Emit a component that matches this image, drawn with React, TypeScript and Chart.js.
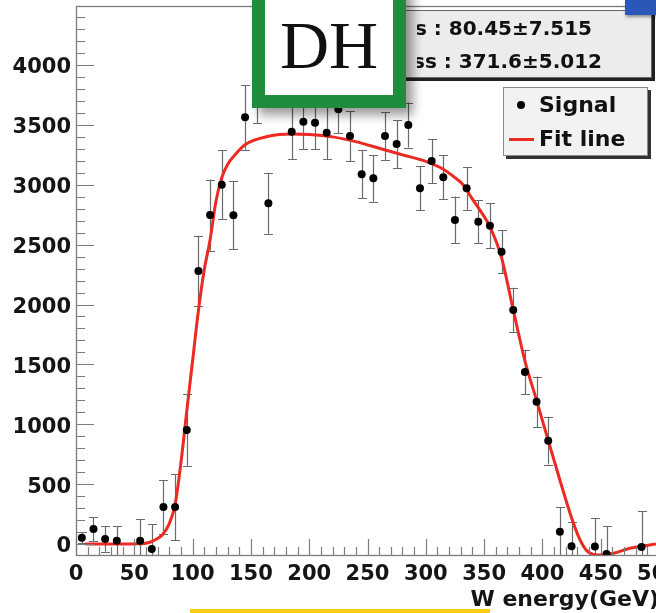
import React, { useEffect, useRef } from 'react';
import { Chart, registerables } from 'chart.js';

Chart.register(...registerables);

// ---- data ----
const signalX = [5, 15, 25, 35, 55, 65, 75, 85, 95, 105, 115, 125, 135, 145, 155, 165, 185, 195, 205, 215, 225, 235, 245, 255, 265, 275, 285, 295, 305, 315, 325, 335, 345, 355, 365, 375, 385, 395, 405, 415, 425, 445, 455, 485];
const signalY = [53, 125, 42, 28, 28, -42, 309, 309, 952, 2280, 2747, 3000, 2745, 3563, 3790, 2845, 3443, 3527, 3518, 3435, 3630, 3407, 3087, 3054, 3407, 3340, 3499, 2970, 3198, 3062, 2706, 2970, 2692, 2658, 2441, 1954, 1436, 1188, 863, 103, -18, -22, -83, -25];
const signalErr = [45, 100, 107, 120, 181, 209, 225, 276, 298, 295, 297, 290, 285, 270, 275, 255, 228, 228, 220, 223, 200, 209, 200, 195, 200, 200, 188, 184, 184, 184, 195, 178, 180, 190, 180, 185, 186, 210, 200, 203, 200, 240, 233, 300];

const fitX = [8, 30, 55, 62, 68, 74, 80, 85, 90, 95, 100, 105, 110, 115, 120, 125, 130, 135, 145, 165, 185, 200, 220, 240, 260, 280, 300, 315, 325, 332, 340, 347, 355, 365, 375, 385, 395, 405, 415, 425, 432, 438, 448, 461, 475, 492, 503];
const fitY = [0, 0, 2, 10, 35, 75, 170, 330, 680, 1110, 1530, 1950, 2290, 2540, 2860, 3060, 3170, 3235, 3335, 3405, 3425, 3420, 3400, 3360, 3305, 3250, 3195, 3130, 3060, 3000, 2880, 2780, 2650, 2390, 1955, 1530, 1200, 865, 534, 220, 40, -55, -92, -78, -36, -8, 5];

const xTickValues = [0, 50, 100, 150, 200, 250, 300, 350, 400, 450, 500];
const yTickValues = [0, 500, 1000, 1500, 2000, 2500, 3000, 3500, 4000];

const xTitle = 'W energy(GeV)';
const legendLabels = ['Signal', 'Fit line'];
const statsLines = ['W mass : 80.45±7.515', 'DH mass : 371.6±5.012'];
const badgeText = 'DH';

const X_MIN = 0;
const X_MAX = 500;
const Y_MIN = -92;
const Y_MAX = 4493;

const FONT = '"DejaVu Sans", sans-serif';
const AXIS_GRAY = '#7c7c7c';

const errorBarsPlugin = {
  id: 'errorBars',
  beforeDatasetsDraw(chart: any) {
    const { ctx, chartArea: a, scales } = chart;
    const xs = scales.x;
    const ys = scales.y;
    ctx.save();
    ctx.beginPath();
    ctx.rect(a.left, a.top, a.right - a.left, a.bottom - a.top);
    ctx.clip();
    ctx.strokeStyle = '#6a6a6a';
    ctx.lineWidth = 1.2;
    for (let i = 0; i < signalX.length; i++) {
      const px = Math.round(xs.getPixelForValue(signalX[i])) + 0.5;
      const y1 = ys.getPixelForValue(signalY[i] + signalErr[i]);
      const y2 = ys.getPixelForValue(signalY[i] - signalErr[i]);
      ctx.beginPath();
      ctx.moveTo(px, y1);
      ctx.lineTo(px, y2);
      ctx.moveTo(px - 4.5, Math.round(y1) + 0.5);
      ctx.lineTo(px + 4.5, Math.round(y1) + 0.5);
      ctx.moveTo(px - 4.5, Math.round(y2) + 0.5);
      ctx.lineTo(px + 4.5, Math.round(y2) + 0.5);
      ctx.stroke();
    }
    ctx.restore();
  },
};

const frameTicksPlugin = {
  id: 'frameTicks',
  afterDatasetsDraw(chart: any) {
    const { ctx, chartArea: a, scales } = chart;
    const xs = scales.x;
    const ys = scales.y;
    ctx.save();
    ctx.strokeStyle = AXIS_GRAY;
    ctx.lineWidth = 1.3;
    ctx.strokeRect(Math.round(a.left) + 0.5, Math.round(a.top) + 0.5, a.right - a.left, a.bottom - a.top);
    ctx.lineWidth = 1.2;
    ctx.beginPath();
    for (let v = X_MIN; v <= X_MAX; v += 10) {
      const px = Math.round(xs.getPixelForValue(v)) + 0.5;
      const len = v % 50 === 0 ? 16 : 8;
      ctx.moveTo(px, a.bottom);
      ctx.lineTo(px, a.bottom - len);
    }
    for (let v = 0; v <= Y_MAX; v += 100) {
      const py = Math.round(ys.getPixelForValue(v)) + 0.5;
      const len = v % 500 === 0 ? 18 : 9;
      ctx.moveTo(a.left, py);
      ctx.lineTo(a.left + len, py);
    }
    ctx.stroke();
    ctx.restore();
  },
};

export default function App() {
  const canvasRef = useRef<HTMLCanvasElement | null>(null);

  useEffect(() => {
    const canvas = canvasRef.current;
    if (!canvas) return;
    const tickFont = { family: FONT, size: 21, weight: 'bold' as const };
    const chart = new Chart(canvas, {
      type: 'scatter',
      data: {
        datasets: [
          {
            type: 'line',
            label: legendLabels[1],
            data: fitX.map((x, i) => ({ x, y: fitY[i] })),
            borderColor: '#ec2a22',
            borderWidth: 3,
            pointRadius: 0,
            cubicInterpolationMode: 'monotone',
            fill: false,
            order: 2,
          } as any,
          {
            type: 'scatter',
            label: legendLabels[0],
            data: signalX.map((x, i) => ({ x, y: signalY[i] })),
            backgroundColor: '#000',
            borderColor: '#000',
            borderWidth: 0,
            pointRadius: 4,
            pointHoverRadius: 4,
            order: 1,
          } as any,
        ],
      },
      options: {
        responsive: false,
        animation: false,
        events: [],
        layout: { padding: { top: 6, right: 41, left: 0, bottom: 0 } },
        plugins: { legend: { display: false }, tooltip: { enabled: false } },
        scales: {
          x: {
            type: 'linear',
            min: X_MIN,
            max: X_MAX,
            grid: { display: false, drawTicks: false },
            border: { display: false },
            ticks: {
              font: tickFont,
              color: '#151515',
              padding: 7,
              autoSkip: false,
              maxRotation: 0,
              callback: (v: any) => String(v),
            },
            afterBuildTicks: (s: any) => {
              s.ticks = xTickValues.map((v) => ({ value: v }));
            },
            afterFit: (s: any) => {
              s.height = 58;
              s.paddingLeft = 0;
              s.paddingRight = 0;
            },
            title: {
              display: true,
              text: xTitle,
              align: 'end',
              color: '#151515',
              font: { family: FONT, size: 22, weight: 'bold' },
              padding: { top: 0, bottom: 0 },
            },
          },
          y: {
            type: 'linear',
            min: Y_MIN,
            max: Y_MAX,
            grid: { display: false, drawTicks: false },
            border: { display: false },
            ticks: {
              font: tickFont,
              color: '#151515',
              padding: 5,
              labelOffset: 3,
              autoSkip: false,
              callback: (v: any) => String(v),
            },
            afterBuildTicks: (s: any) => {
              s.ticks = yTickValues.map((v) => ({ value: v }));
            },
            afterFit: (s: any) => {
              s.width = 76;
              s.paddingTop = 0;
              s.paddingBottom = 0;
            },
          },
        },
      } as any,
      plugins: [errorBarsPlugin, frameTicksPlugin],
    });
    return () => chart.destroy();
  }, []);

  const boxText: React.CSSProperties = {
    position: 'absolute',
    fontFamily: FONT,
    fontWeight: 'bold',
    color: '#111',
    whiteSpace: 'nowrap',
  };

  return (
    <div
      style={{
        position: 'fixed',
        left: 0,
        top: 0,
        width: 656,
        height: 613,
        overflow: 'hidden',
        background: '#fff',
      }}
    >
      <canvas
        ref={canvasRef}
        width={700}
        height={613}
        style={{ position: 'absolute', left: 0, top: 0, width: 700, height: 613 }}
      />

      {/* stats box */}
      <div
        style={{
          position: 'absolute',
          left: 380,
          top: 10,
          width: 270,
          height: 66,
          background: '#ececec',
          border: '1px solid #666',
          boxShadow: '3px 3px 0 #222',
        }}
      />
      <div
        style={{
          position: 'absolute',
          left: 417,
          top: 11,
          width: 232,
          height: 66,
          overflow: 'hidden',
        }}
      >
        <div style={{ ...boxText, fontSize: 20, right: 649 - 592, top: 5, lineHeight: '24px', textAlign: 'right' }}>
          {statsLines[0]}
        </div>
        <div style={{ ...boxText, fontSize: 20, right: 649 - 602, top: 38, lineHeight: '24px', textAlign: 'right' }}>
          {statsLines[1]}
        </div>
      </div>

      {/* blue corner */}
      <div
        style={{
          position: 'absolute',
          left: 625,
          top: 0,
          width: 31,
          height: 15,
          background: '#2b58b8',
          boxShadow: '1px 2px 3px rgba(0,0,0,0.4)',
        }}
      />

      {/* DH badge */}
      <div
        style={{
          position: 'absolute',
          left: 252,
          top: -14,
          width: 154,
          height: 122,
          boxSizing: 'border-box',
          border: '13px solid #1f8d3b',
          background: '#fff',
          boxShadow: '7px 7px 10px rgba(0,0,0,0.4)',
        }}
      />
      <div
        style={{
          position: 'absolute',
          left: 252,
          width: 154,
          top: 11,
          fontFamily: '"Liberation Serif", serif',
          fontSize: 68,
          lineHeight: '68px',
          textAlign: 'center',
          color: '#111',
        }}
      >
        {badgeText}
      </div>

      {/* legend */}
      <div
        style={{
          position: 'absolute',
          left: 503,
          top: 87,
          width: 143,
          height: 67,
          background: '#f2f2f2',
          border: '1px solid #888',
          boxShadow: '3px 3px 0 #333',
        }}
      />
      <div
        style={{
          position: 'absolute',
          left: 517,
          top: 101,
          width: 8,
          height: 8,
          borderRadius: '50%',
          background: '#000',
        }}
      />
      <div style={{ ...boxText, fontSize: 22, left: 539, top: 91, lineHeight: '28px' }}>{legendLabels[0]}</div>
      <div
        style={{
          position: 'absolute',
          left: 509,
          top: 138,
          width: 25,
          height: 3,
          background: '#ec2a22',
        }}
      />
      <div style={{ ...boxText, fontSize: 22, left: 539, top: 125, lineHeight: '28px' }}>{legendLabels[1]}</div>

      {/* yellow bar at bottom */}
      <div
        style={{
          position: 'absolute',
          left: 190,
          top: 609,
          width: 300,
          height: 4,
          background: '#f6cf10',
        }}
      />
    </div>
  );
}
